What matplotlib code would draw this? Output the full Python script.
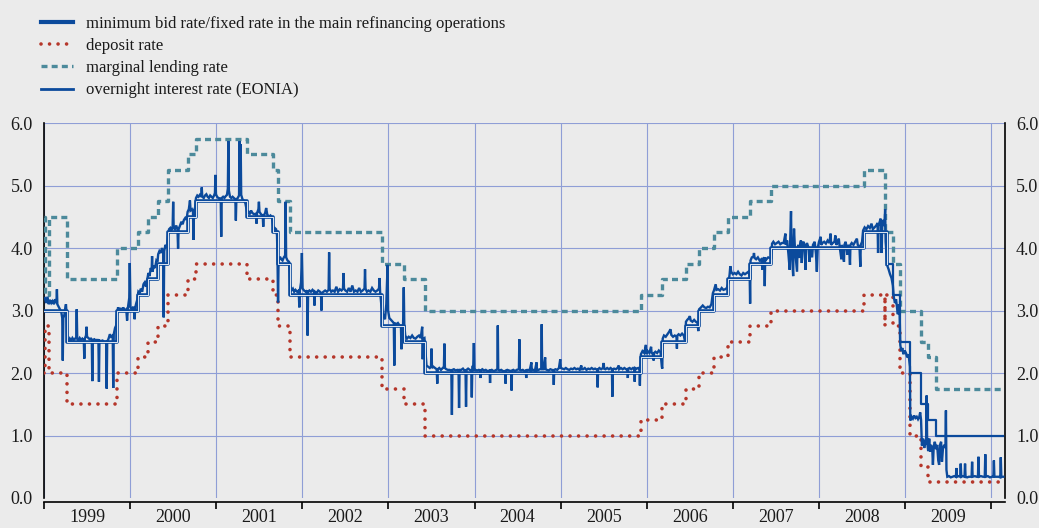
import matplotlib
matplotlib.use('Agg')
import matplotlib.pyplot as plt
from matplotlib.lines import Line2D

plt.rcParams['font.family'] = ['Liberation Serif', 'DejaVu Serif']

# ---------------- data (decimal years, percent) ----------------
end_t = 2010.14

mro_t = [1999.0, 1999.268, 1999.844, 2000.093, 2000.208, 2000.322, 2000.437, 2000.667,
         2000.762, 2001.356, 2001.663, 2001.712, 2001.855, 2002.929, 2003.178, 2003.427,
         2005.929, 2006.181, 2006.452, 2006.603, 2006.775, 2006.948, 2007.197, 2007.447,
         2008.519, 2008.787, 2008.863, 2008.940, 2009.055, 2009.189, 2009.266, 2009.362]
mro_v = [3.00, 2.50, 3.00, 3.25, 3.50, 3.75, 4.25, 4.50,
         4.75, 4.50, 4.25, 3.75, 3.25, 2.75, 2.50, 2.00,
         2.25, 2.50, 2.75, 3.00, 3.25, 3.50, 3.75, 4.00,
         4.25, 3.75, 3.25, 2.50, 2.00, 1.50, 1.25, 1.00]
fixed_rate_start = 2008.787

dep_t = [1999.0, 1999.008, 1999.058, 1999.268, 1999.844, 2000.093, 2000.208, 2000.322,
         2000.437, 2000.667, 2000.762, 2001.356, 2001.663, 2001.712, 2001.855, 2002.929,
         2003.178, 2003.427, 2005.929, 2006.181, 2006.452, 2006.603, 2006.775, 2006.948,
         2007.197, 2007.447, 2008.519, 2008.768, 2008.771, 2008.863, 2008.940, 2009.055,
         2009.189, 2009.266]
dep_v = [2.00, 2.75, 2.00, 1.50, 2.00, 2.25, 2.50, 2.75,
         3.25, 3.50, 3.75, 3.50, 3.25, 2.75, 2.25, 1.75,
         1.50, 1.00, 1.25, 1.50, 1.75, 2.00, 2.25, 2.50,
         2.75, 3.00, 3.25, 2.75, 3.25, 2.75, 2.00, 1.00,
         0.50, 0.25]

mlf_t = [1999.0, 1999.008, 1999.058, 1999.268, 1999.844, 2000.093, 2000.208, 2000.322,
         2000.437, 2000.667, 2000.762, 2001.356, 2001.663, 2001.712, 2001.855, 2002.929,
         2003.178, 2003.427, 2005.929, 2006.181, 2006.452, 2006.603, 2006.775, 2006.948,
         2007.197, 2007.447, 2008.519, 2008.768, 2008.771, 2008.863, 2008.940, 2009.189,
         2009.266, 2009.362]
mlf_v = [4.50, 3.25, 4.50, 3.50, 4.00, 4.25, 4.50, 4.75,
         5.25, 5.50, 5.75, 5.50, 5.25, 4.75, 4.25, 3.75,
         3.50, 3.00, 3.25, 3.50, 3.75, 4.00, 4.25, 4.50,
         4.75, 5.00, 5.25, 4.75, 4.25, 3.75, 3.00, 2.50,
         2.25, 1.75]

eonia_1999 = [
    (1999.010, 3.20), (1999.025, 3.12), (1999.040, 3.22), (1999.055, 3.10), (1999.070, 3.17),
    (1999.085, 3.12), (1999.100, 3.15), (1999.115, 3.10), (1999.130, 3.18), (1999.145, 3.12),
    (1999.150, 3.34), (1999.155, 3.10), (1999.170, 3.06), (1999.185, 3.02), (1999.200, 2.98),
    (1999.212, 2.88), (1999.218, 2.20), (1999.224, 2.88), (1999.235, 2.92), (1999.248, 3.05),
    (1999.255, 3.10), (1999.262, 2.95), (1999.270, 2.55), (1999.285, 2.50), (1999.300, 2.55),
    (1999.315, 2.52), (1999.330, 2.56), (1999.345, 2.53), (1999.360, 2.55), (1999.374, 2.56),
    (1999.380, 3.02), (1999.386, 2.55), (1999.400, 2.52), (1999.415, 2.56), (1999.430, 2.53),
    (1999.445, 2.55), (1999.462, 2.52), (1999.468, 2.23), (1999.474, 2.55), (1999.488, 2.60),
    (1999.494, 2.74), (1999.500, 2.58), (1999.515, 2.56), (1999.530, 2.54), (1999.545, 2.55),
    (1999.555, 2.53), (1999.561, 1.87), (1999.567, 2.53), (1999.585, 2.54), (1999.600, 2.52),
    (1999.615, 2.53), (1999.632, 2.52), (1999.638, 1.86), (1999.644, 2.52), (1999.660, 2.51),
    (1999.680, 2.52), (1999.700, 2.50), (1999.722, 2.50), (1999.728, 1.75), (1999.734, 2.50),
    (1999.750, 2.55), (1999.765, 2.62), (1999.780, 2.58), (1999.798, 2.60), (1999.804, 1.76),
    (1999.810, 2.62), (1999.825, 2.72), (1999.838, 2.76), (1999.848, 2.95), (1999.860, 3.05),
    (1999.875, 3.00), (1999.890, 3.04), (1999.905, 2.98), (1999.920, 3.05), (1999.935, 3.00),
    (1999.955, 3.02), (1999.965, 2.84), (1999.975, 3.05), (1999.990, 3.20), (1999.996, 3.76),
]
eonia_2000 = [
    (2000.004, 3.05), (2000.020, 3.02), (2000.035, 3.06), (2000.048, 3.00), (2000.053, 2.86),
    (2000.058, 3.04), (2000.072, 3.12), (2000.085, 3.18), (2000.096, 3.30), (2000.110, 3.28),
    (2000.125, 3.35), (2000.140, 3.30), (2000.155, 3.42), (2000.170, 3.45), (2000.185, 3.38),
    (2000.200, 3.50), (2000.212, 3.60), (2000.225, 3.55), (2000.240, 3.68), (2000.250, 3.62),
    (2000.255, 3.87), (2000.260, 3.62), (2000.275, 3.72), (2000.290, 3.68), (2000.305, 3.80),
    (2000.318, 3.78), (2000.326, 3.90), (2000.340, 3.95), (2000.355, 3.92), (2000.370, 4.00),
    (2000.384, 3.92), (2000.390, 2.89), (2000.396, 3.95), (2000.410, 4.05), (2000.425, 4.00),
    (2000.440, 4.20), (2000.452, 4.30), (2000.466, 4.32), (2000.480, 4.28), (2000.494, 4.35),
    (2000.500, 4.74), (2000.506, 4.32), (2000.520, 4.30), (2000.535, 4.36), (2000.550, 4.30),
    (2000.557, 3.99), (2000.563, 4.30), (2000.580, 4.36), (2000.595, 4.42), (2000.610, 4.38),
    (2000.625, 4.45), (2000.640, 4.48), (2000.655, 4.45), (2000.668, 4.58), (2000.682, 4.62),
    (2000.695, 4.76), (2000.702, 4.60), (2000.718, 4.62), (2000.730, 4.58), (2000.736, 4.13),
    (2000.742, 4.60), (2000.755, 4.65), (2000.765, 4.80), (2000.780, 4.84), (2000.795, 4.82),
    (2000.810, 4.85), (2000.826, 4.82), (2000.832, 4.97), (2000.838, 4.82), (2000.855, 4.80),
    (2000.870, 4.84), (2000.885, 4.86), (2000.900, 4.82), (2000.915, 4.80), (2000.930, 4.84),
    (2000.945, 4.82), (2000.960, 4.80), (2000.975, 4.84), (2000.985, 4.88), (2000.991, 5.17),
    (2000.997, 4.86),
]
eonia_2001 = [
    (2001.010, 4.82), (2001.025, 4.80), (2001.040, 4.78), (2001.052, 4.80), (2001.058, 4.18),
    (2001.064, 4.80), (2001.080, 4.82), (2001.095, 4.80), (2001.110, 4.83), (2001.125, 4.85),
    (2001.135, 4.95), (2001.141, 5.71), (2001.147, 4.92), (2001.160, 4.82), (2001.175, 4.80),
    (2001.190, 4.82), (2001.205, 4.80), (2001.222, 4.78), (2001.228, 4.44), (2001.234, 4.78),
    (2001.250, 4.80), (2001.265, 4.84), (2001.272, 5.71), (2001.278, 5.10), (2001.284, 5.66),
    (2001.290, 4.85), (2001.305, 4.78), (2001.320, 4.76), (2001.338, 4.72), (2001.360, 4.56),
    (2001.375, 4.58), (2001.390, 4.55), (2001.405, 4.60), (2001.420, 4.56), (2001.440, 4.54),
    (2001.462, 4.55), (2001.468, 4.39), (2001.474, 4.56), (2001.490, 4.62), (2001.496, 4.74),
    (2001.502, 4.58), (2001.520, 4.54), (2001.540, 4.52), (2001.546, 4.34), (2001.552, 4.52),
    (2001.568, 4.56), (2001.580, 4.64), (2001.592, 4.54), (2001.610, 4.50), (2001.630, 4.52),
    (2001.648, 4.48), (2001.665, 4.30), (2001.680, 4.32), (2001.695, 4.30), (2001.706, 4.20),
    (2001.712, 3.80), (2001.718, 3.13), (2001.724, 3.80), (2001.740, 3.86), (2001.755, 3.82),
    (2001.770, 3.80), (2001.785, 3.85), (2001.800, 3.88), (2001.806, 4.74), (2001.812, 3.85),
    (2001.828, 3.80), (2001.845, 3.78), (2001.858, 3.40), (2001.872, 3.32), (2001.890, 3.35),
    (2001.905, 3.30), (2001.920, 3.33), (2001.940, 3.30), (2001.958, 3.32), (2001.965, 3.05),
    (2001.971, 3.32), (2001.985, 3.45), (2001.995, 3.92),
]
eonia_2002 = [
    (2002.003, 3.35), (2002.020, 3.32), (2002.040, 3.30), (2002.055, 3.32), (2002.061, 2.60),
    (2002.067, 3.30), (2002.082, 3.32), (2002.100, 3.30), (2002.118, 3.33), (2002.135, 3.30),
    (2002.141, 3.08), (2002.147, 3.30), (2002.165, 3.28), (2002.185, 3.32), (2002.205, 3.30),
    (2002.216, 3.28), (2002.222, 3.00), (2002.228, 3.28), (2002.245, 3.30), (2002.265, 3.32),
    (2002.285, 3.30), (2002.305, 3.33), (2002.311, 3.93), (2002.317, 3.35), (2002.335, 3.30),
    (2002.355, 3.32), (2002.375, 3.30), (2002.395, 3.38), (2002.415, 3.30), (2002.435, 3.34),
    (2002.455, 3.32), (2002.472, 3.35), (2002.478, 3.60), (2002.484, 3.35), (2002.500, 3.32),
    (2002.520, 3.30), (2002.540, 3.36), (2002.560, 3.30), (2002.580, 3.40), (2002.600, 3.30),
    (2002.620, 3.32), (2002.640, 3.30), (2002.660, 3.36), (2002.680, 3.30), (2002.700, 3.32),
    (2002.722, 3.35), (2002.728, 3.66), (2002.734, 3.35), (2002.750, 3.30), (2002.770, 3.32),
    (2002.790, 3.30), (2002.810, 3.36), (2002.830, 3.32), (2002.850, 3.30), (2002.870, 3.32),
    (2002.890, 3.35), (2002.897, 3.52), (2002.903, 3.30), (2002.918, 3.08), (2002.930, 2.98),
    (2002.945, 2.90), (2002.960, 2.86), (2002.975, 3.10), (2002.990, 3.73), (2002.996, 3.00),
]
eonia_2003 = [
    (2003.010, 2.88), (2003.030, 2.85), (2003.050, 2.82), (2003.062, 2.80), (2003.068, 2.12),
    (2003.074, 2.80), (2003.090, 2.78), (2003.110, 2.80), (2003.130, 2.76), (2003.145, 2.75),
    (2003.151, 2.38), (2003.157, 2.75), (2003.170, 2.78), (2003.178, 3.37), (2003.184, 2.78),
    (2003.195, 2.60), (2003.215, 2.55), (2003.235, 2.58), (2003.255, 2.56), (2003.275, 2.60),
    (2003.295, 2.56), (2003.315, 2.55), (2003.335, 2.58), (2003.355, 2.60), (2003.375, 2.56),
    (2003.392, 2.74), (2003.398, 2.22), (2003.404, 2.55), (2003.418, 2.56), (2003.430, 2.35),
    (2003.442, 2.12), (2003.460, 2.10), (2003.480, 2.08), (2003.494, 2.10), (2003.500, 2.39),
    (2003.506, 2.08), (2003.522, 2.10), (2003.540, 2.08), (2003.560, 2.06), (2003.567, 1.83),
    (2003.573, 2.06), (2003.590, 2.08), (2003.610, 2.05), (2003.630, 2.08), (2003.644, 2.10),
    (2003.650, 2.47), (2003.656, 2.08), (2003.672, 2.06), (2003.690, 2.05), (2003.710, 2.05),
    (2003.730, 2.04), (2003.737, 1.33), (2003.743, 2.05), (2003.760, 2.06), (2003.780, 2.04),
    (2003.800, 2.05), (2003.814, 2.04), (2003.820, 1.44), (2003.826, 2.05), (2003.845, 2.05),
    (2003.865, 2.07), (2003.882, 2.04), (2003.895, 2.04), (2003.901, 1.46), (2003.907, 2.05),
    (2003.925, 2.07), (2003.945, 2.05), (2003.962, 2.04), (2003.968, 1.61), (2003.974, 2.10),
    (2003.985, 2.12), (2003.992, 2.48), (2003.998, 2.05),
]
eonia_2004 = [
    (2004.010, 2.05), (2004.030, 2.04), (2004.050, 2.05), (2004.065, 2.04), (2004.070, 1.92),
    (2004.075, 2.04), (2004.090, 2.06), (2004.110, 2.04), (2004.130, 2.05), (2004.150, 2.03),
    (2004.175, 2.04), (2004.180, 1.84), (2004.185, 2.04), (2004.200, 2.05), (2004.220, 2.03),
    (2004.240, 2.04), (2004.265, 2.06), (2004.270, 2.76), (2004.275, 2.06), (2004.290, 2.04),
    (2004.310, 2.05), (2004.330, 2.03), (2004.355, 2.03), (2004.360, 1.83), (2004.365, 2.04),
    (2004.380, 2.05), (2004.400, 2.04), (2004.425, 2.03), (2004.430, 1.72), (2004.435, 2.04),
    (2004.450, 2.05), (2004.470, 2.03), (2004.490, 2.05), (2004.515, 2.06), (2004.520, 2.54),
    (2004.525, 2.06), (2004.540, 2.04), (2004.560, 2.05), (2004.580, 2.03), (2004.595, 2.04),
    (2004.600, 1.92), (2004.605, 2.04), (2004.620, 2.05), (2004.640, 2.04), (2004.660, 2.17),
    (2004.665, 2.04), (2004.680, 2.05), (2004.700, 2.03), (2004.720, 2.17), (2004.725, 2.04),
    (2004.740, 2.05), (2004.760, 2.06), (2004.775, 2.07), (2004.780, 2.78), (2004.785, 2.06),
    (2004.800, 2.06), (2004.820, 2.25), (2004.825, 2.06), (2004.840, 2.05), (2004.860, 2.04),
    (2004.880, 2.06), (2004.900, 2.05), (2004.915, 2.04), (2004.920, 1.81), (2004.925, 2.05),
    (2004.940, 2.06), (2004.960, 2.05), (2004.980, 2.08), (2004.995, 2.22),
]
eonia_2005 = [
    (2005.002, 2.08), (2005.020, 2.07), (2005.040, 2.06), (2005.060, 2.08), (2005.080, 2.06),
    (2005.100, 2.05), (2005.120, 2.07), (2005.140, 2.06), (2005.160, 2.08), (2005.180, 2.06),
    (2005.200, 2.07), (2005.220, 2.05), (2005.240, 2.12), (2005.245, 2.06), (2005.260, 2.06),
    (2005.280, 2.08), (2005.300, 2.05), (2005.320, 2.07), (2005.340, 2.06), (2005.360, 2.08),
    (2005.380, 2.06), (2005.400, 2.07), (2005.425, 2.05), (2005.430, 1.77), (2005.435, 2.06),
    (2005.450, 2.08), (2005.470, 2.06), (2005.490, 2.08), (2005.500, 2.16), (2005.505, 2.07),
    (2005.520, 2.06), (2005.540, 2.08), (2005.560, 2.06), (2005.580, 2.08), (2005.595, 2.06),
    (2005.600, 1.62), (2005.605, 2.06), (2005.620, 2.07), (2005.640, 2.06), (2005.660, 2.08),
    (2005.675, 2.12), (2005.680, 2.06), (2005.700, 2.08), (2005.720, 2.06), (2005.740, 2.08),
    (2005.760, 2.06), (2005.775, 2.06), (2005.780, 1.92), (2005.785, 2.07), (2005.800, 2.08),
    (2005.820, 2.06), (2005.840, 2.08), (2005.855, 2.06), (2005.860, 1.86), (2005.865, 2.08),
    (2005.880, 2.07), (2005.900, 2.08), (2005.915, 2.05), (2005.920, 1.80), (2005.925, 2.10),
    (2005.932, 2.30), (2005.950, 2.35), (2005.970, 2.32), (2005.990, 2.45), (2005.995, 2.30),
]
eonia_2006 = [
    (2006.010, 2.35), (2006.030, 2.32), (2006.050, 2.42), (2006.055, 2.33), (2006.070, 2.30),
    (2006.080, 2.20), (2006.085, 2.32), (2006.100, 2.34), (2006.120, 2.32), (2006.140, 2.36),
    (2006.160, 2.33), (2006.175, 2.10), (2006.180, 2.07), (2006.185, 2.55), (2006.200, 2.60),
    (2006.220, 2.58), (2006.240, 2.62), (2006.260, 2.66), (2006.275, 2.70), (2006.285, 2.61),
    (2006.305, 2.58), (2006.325, 2.60), (2006.345, 2.58), (2006.350, 2.39), (2006.355, 2.60),
    (2006.370, 2.62), (2006.390, 2.60), (2006.410, 2.63), (2006.430, 2.60), (2006.445, 2.50),
    (2006.455, 2.82), (2006.470, 2.85), (2006.490, 2.88), (2006.500, 2.91), (2006.510, 2.84),
    (2006.530, 2.82), (2006.550, 2.85), (2006.570, 2.82), (2006.590, 2.80), (2006.598, 2.67),
    (2006.608, 3.02), (2006.630, 3.05), (2006.650, 3.08), (2006.670, 3.05), (2006.690, 3.04),
    (2006.710, 3.06), (2006.730, 3.05), (2006.750, 3.10), (2006.768, 3.28), (2006.780, 3.32),
    (2006.800, 3.42), (2006.810, 3.33), (2006.830, 3.34), (2006.850, 3.32), (2006.870, 3.36),
    (2006.890, 3.33), (2006.910, 3.34), (2006.930, 3.36), (2006.950, 3.45), (2006.962, 3.58),
    (2006.970, 3.71), (2006.980, 3.62),
]
eonia_2007 = [
    (2007.000, 3.58), (2007.020, 3.60), (2007.040, 3.58), (2007.060, 3.62), (2007.080, 3.58),
    (2007.100, 3.56), (2007.120, 3.60), (2007.140, 3.58), (2007.160, 3.60), (2007.180, 3.62),
    (2007.195, 3.55), (2007.200, 3.11), (2007.205, 3.80), (2007.220, 3.85), (2007.238, 3.86),
    (2007.245, 3.92), (2007.252, 3.84), (2007.270, 3.82), (2007.290, 3.85), (2007.310, 3.80),
    (2007.330, 3.82), (2007.345, 3.65), (2007.350, 3.82), (2007.365, 3.85), (2007.370, 3.39),
    (2007.375, 3.84), (2007.390, 3.82), (2007.410, 3.85), (2007.430, 3.84), (2007.445, 3.82),
    (2007.455, 4.07), (2007.470, 4.10), (2007.490, 4.06), (2007.510, 4.08), (2007.530, 4.10),
    (2007.550, 4.06), (2007.570, 4.08), (2007.590, 4.08), (2007.610, 4.23), (2007.615, 4.05),
    (2007.630, 4.12), (2007.645, 3.90), (2007.660, 3.65), (2007.665, 4.10), (2007.675, 4.59),
    (2007.680, 4.05), (2007.690, 3.80), (2007.700, 3.55), (2007.705, 4.10), (2007.710, 4.31),
    (2007.720, 4.00), (2007.730, 3.85), (2007.745, 3.62), (2007.750, 4.00), (2007.760, 4.05),
    (2007.770, 3.84), (2007.780, 4.05), (2007.790, 4.12), (2007.800, 3.76), (2007.810, 4.08),
    (2007.820, 4.10), (2007.830, 4.05), (2007.845, 3.65), (2007.850, 4.02), (2007.860, 4.08),
    (2007.880, 4.00), (2007.890, 3.78), (2007.900, 4.00), (2007.920, 3.85), (2007.930, 4.05),
    (2007.950, 4.10), (2007.965, 3.90), (2007.975, 3.62), (2007.985, 4.00),
]
eonia_2008 = [
    (2008.000, 4.10), (2008.020, 4.18), (2008.025, 4.05), (2008.040, 4.08), (2008.060, 4.10),
    (2008.080, 4.07), (2008.100, 4.12), (2008.120, 4.08), (2008.135, 4.23), (2008.140, 4.05),
    (2008.160, 4.08), (2008.180, 4.10), (2008.190, 4.20), (2008.200, 4.05), (2008.220, 4.10),
    (2008.230, 4.15), (2008.240, 4.02), (2008.260, 3.82), (2008.265, 4.05), (2008.280, 3.90),
    (2008.290, 3.78), (2008.295, 4.05), (2008.310, 4.10), (2008.330, 3.89), (2008.335, 4.05),
    (2008.350, 4.00), (2008.360, 3.73), (2008.365, 4.05), (2008.380, 4.08), (2008.400, 4.05),
    (2008.420, 4.10), (2008.440, 4.15), (2008.450, 4.05), (2008.470, 4.02), (2008.480, 3.70),
    (2008.485, 4.05), (2008.500, 4.10), (2008.512, 4.28), (2008.530, 4.33), (2008.550, 4.30),
    (2008.570, 4.35), (2008.590, 4.32), (2008.610, 4.39), (2008.625, 4.30), (2008.645, 4.33),
    (2008.665, 4.36), (2008.680, 4.40), (2008.686, 3.92), (2008.692, 4.35), (2008.705, 4.42),
    (2008.716, 4.47), (2008.722, 4.35), (2008.728, 3.92), (2008.734, 4.38), (2008.748, 4.45),
    (2008.760, 4.35), (2008.768, 4.62), (2008.774, 4.10), (2008.782, 3.95), (2008.792, 3.72),
    (2008.808, 3.66), (2008.825, 3.58), (2008.842, 3.52), (2008.858, 3.40), (2008.868, 3.22),
    (2008.882, 3.12), (2008.895, 3.18), (2008.908, 3.02), (2008.916, 2.94), (2008.925, 3.10),
    (2008.936, 2.98), (2008.944, 2.45), (2008.955, 2.35), (2008.968, 2.40), (2008.980, 2.30),
    (2008.995, 2.36),
]
eonia_2009 = [
    (2009.010, 2.32), (2009.025, 2.25), (2009.040, 2.30), (2009.050, 2.18), (2009.056, 2.10),
    (2009.060, 1.24), (2009.075, 1.30), (2009.090, 1.27), (2009.105, 1.32), (2009.120, 1.28),
    (2009.135, 1.30), (2009.150, 1.26), (2009.165, 1.30), (2009.175, 1.37), (2009.185, 1.25),
    (2009.195, 0.84), (2009.210, 0.95), (2009.222, 0.80), (2009.235, 0.92), (2009.245, 0.85),
    (2009.250, 1.64), (2009.256, 0.90), (2009.268, 0.75), (2009.280, 0.95), (2009.290, 0.74),
    (2009.300, 0.85), (2009.315, 0.80), (2009.323, 0.53), (2009.332, 0.82), (2009.345, 0.90),
    (2009.360, 0.78), (2009.372, 0.85), (2009.385, 0.60), (2009.395, 0.53), (2009.405, 0.85),
    (2009.418, 0.90), (2009.428, 0.58), (2009.440, 0.80), (2009.455, 0.85), (2009.468, 0.80),
    (2009.474, 1.40), (2009.480, 0.45), (2009.490, 0.34), (2009.510, 0.35), (2009.530, 0.33),
    (2009.550, 0.34), (2009.570, 0.35), (2009.590, 0.34), (2009.596, 0.48), (2009.602, 0.34),
    (2009.620, 0.35), (2009.640, 0.34), (2009.646, 0.55), (2009.652, 0.34), (2009.670, 0.35),
    (2009.690, 0.34), (2009.696, 0.55), (2009.702, 0.34), (2009.720, 0.33), (2009.740, 0.34),
    (2009.772, 0.34), (2009.778, 0.58), (2009.784, 0.34), (2009.810, 0.35), (2009.830, 0.34),
    (2009.846, 0.34), (2009.852, 0.66), (2009.858, 0.34), (2009.880, 0.35), (2009.905, 0.34),
    (2009.925, 0.34), (2009.931, 0.70), (2009.937, 0.34), (2009.960, 0.35), (2009.985, 0.33),
    (2010.010, 0.34), (2010.025, 0.34), (2010.031, 0.60), (2010.037, 0.34), (2010.060, 0.34),
    (2010.085, 0.34), (2010.105, 0.33), (2010.111, 0.65), (2010.117, 0.34), (2010.140, 0.34),
]

years = list(range(1999, 2011))
year_labels = [str(y) for y in range(1999, 2010)]
y_ticks = [0, 1, 2, 3, 4, 5, 6]
legend_labels = ['minimum bid rate/fixed rate in the main refinancing operations',
                 'deposit rate', 'marginal lending rate', 'overnight interest rate (EONIA)']

# ---------------- styling ----------------
bg = '#ebebeb'
blue = '#0b4a9c'
red = '#b5362a'
teal = '#4c8a9b'
grid_c = '#8f9ed6'

fig = plt.figure(figsize=(10.39, 5.28), dpi=100, facecolor=bg)
ax = fig.add_axes([44 / 1039, 30 / 528, 961 / 1039, 375 / 528], facecolor=bg)

def steps(t, v):
    return list(t) + [end_t], list(v) + [v[-1]]

dot_style = (0, (0.01, 2.35))
dash_style = (0, (1.8, 1.25))

# marginal lending rate
x, y = steps(mlf_t, mlf_v)
ax.plot(x, y, drawstyle='steps-post', color=teal, lw=2.4,
        linestyle=dash_style, dash_capstyle='butt', zorder=3)
# deposit rate
x, y = steps(dep_t, dep_v)
ax.plot(x, y, drawstyle='steps-post', color=red, lw=2.6,
        linestyle=dot_style, dash_capstyle='round', zorder=3)

# EONIA
eonia = (eonia_1999 + eonia_2000 + eonia_2001 + eonia_2002 + eonia_2003 + eonia_2004 +
         eonia_2005 + eonia_2006 + eonia_2007 + eonia_2008 + eonia_2009)
eonia_t = [p[0] for p in eonia]
eonia_v = [p[1] for p in eonia]
ax.plot(eonia_t, eonia_v, color=blue, lw=1.7, zorder=4, solid_joinstyle='miter')

# MRO: variable-rate period as double line, fixed rate period as single line
x, y = steps(mro_t, mro_v)
xa = [t for t in x if t <= fixed_rate_start]
ya = y[:len(xa)]
xa = xa + [fixed_rate_start]
ya = ya + [ya[-1]]
ax.plot(xa, ya, drawstyle='steps-post', color=blue, lw=2.6, zorder=5)
ax.plot(xa, ya, drawstyle='steps-post', color='#dfe7f2', lw=0.7, zorder=6)
k = len([t for t in x if t < fixed_rate_start]) - 1
ax.plot(x[k:], y[k:], drawstyle='steps-post', color=blue, lw=1.6, zorder=5)

# axes
ax.set_xlim(1999.0, 2010.16)
ax.set_ylim(0, 6)
ax.set_yticks(y_ticks)
ax.set_yticklabels([f'{v:.1f}' for v in y_ticks])
ax.set_xticks(years)
ax.set_xticklabels([])
ax.set_xticks([y + 0.5 for y in range(1999, 2010)], minor=True)
ax.set_xticklabels(year_labels, minor=True)

ax.set_axisbelow(True)
ax.grid(True, which='major', axis='both', color=grid_c, lw=0.8)
ax.get_ygridlines()[0].set_visible(False)

for s in ['left', 'right', 'bottom']:
    ax.spines[s].set_color('black')
    ax.spines[s].set_linewidth(1.2)
ax.spines['top'].set_visible(False)
ax.spines['bottom'].set_position(('outward', 3))

ax.tick_params(axis='y', which='both', length=0, labelleft=True, labelright=True,
               labelsize=13, pad=8, labelcolor='#1a1a1a')
ax.tick_params(axis='x', which='major', direction='out', length=5, width=1.2, color='black')
ax.tick_params(axis='x', which='minor', length=0, labelsize=13, pad=5, labelcolor='#1a1a1a')

# legend
handles = [Line2D([], [], color=blue, lw=3.0),
           Line2D([], [], color=red, lw=2.6, linestyle=dot_style, dash_capstyle='round'),
           Line2D([], [], color=teal, lw=2.4, linestyle=dash_style, dash_capstyle='butt'),
           Line2D([], [], color=blue, lw=2.0)]
fig.legend(handles, legend_labels, loc='upper left', bbox_to_anchor=(41 / 1039, 1 - 16 / 528),
           frameon=False, fontsize=12, handlelength=1.9, handletextpad=0.78,
           labelspacing=0.37, borderpad=0, borderaxespad=0, labelcolor='#1a1a1a')

fig.savefig('out.png', dpi=100, facecolor=bg)
